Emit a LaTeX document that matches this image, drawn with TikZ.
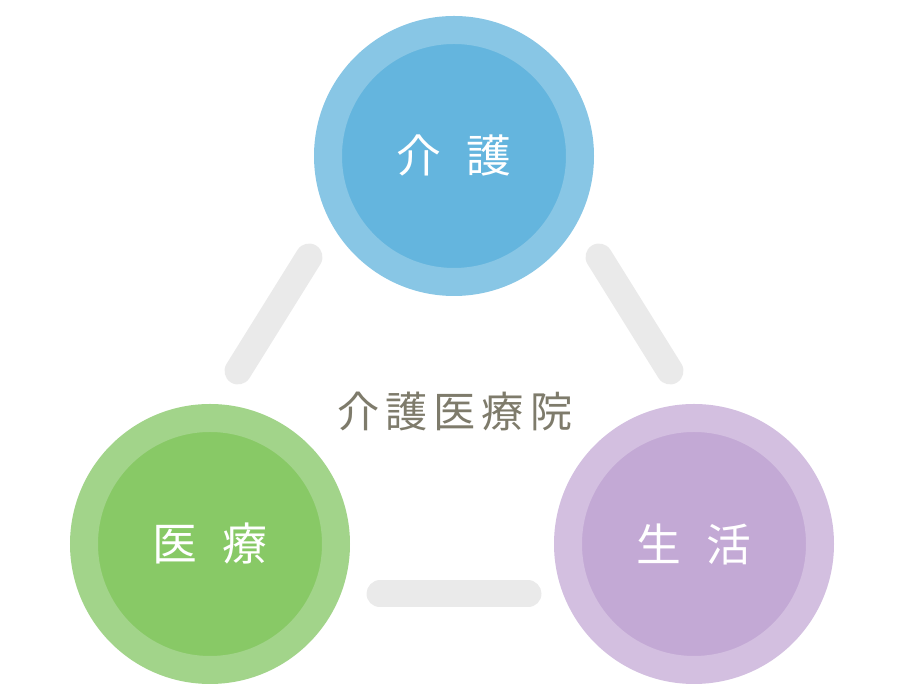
\documentclass[tikz,border=0pt]{standalone}
\usepackage{fontspec}
\newfontfamily\jpfont{Noto Sans CJK JP}
\newfontfamily\jpwide{Noto Sans CJK JP}[LetterSpace=14]
\definecolor{kaigoOuter}{HTML}{88C6E5}
\definecolor{kaigoInner}{HTML}{64B5DE}
\definecolor{iryoOuter}{HTML}{A2D48A}
\definecolor{iryoInner}{HTML}{88C966}
\definecolor{seikatsuOuter}{HTML}{D3BFE0}
\definecolor{seikatsuInner}{HTML}{C3A9D5}
\definecolor{barGray}{HTML}{EAEAEA}
\definecolor{titleGray}{HTML}{7E7B6B}

\begin{document}
\begin{tikzpicture}[ring/.style={circle,minimum size=5.04cm,line width=0.56cm,inner sep=0pt,text=white,font=\jpfont\fontsize{25.5}{30}\selectfont},bar/.style={draw=barGray,line width=0.54cm,line cap=round}]
\useasboundingbox (0,0) rectangle (18,14);
\node[ring,draw=kaigoOuter,fill=kaigoInner] (kaigo) at (9.08,10.88) {介\hspace{0.55em}護};
\node[ring,draw=iryoOuter,fill=iryoInner] (iryo) at (4.2,3.12) {医\hspace{0.55em}療};
\node[ring,draw=seikatsuOuter,fill=seikatsuInner] (seikatsu) at (13.88,3.12) {生\hspace{0.55em}活};
\node[text=titleGray,font=\jpwide\fontsize{24}{29}\selectfont] (title) at (9.1,5.76) {介護医療院};
% bars between the circles
\coordinate (kaigoL) at (6.18,8.86);
\coordinate (iryoT) at (4.76,6.58);
\coordinate (kaigoR) at (11.98,8.86);
\coordinate (seikatsuT) at (13.40,6.58);
\coordinate (iryoR) at (7.6,2.12);
\coordinate (seikatsuL) at (10.56,2.12);
\draw[bar] (kaigoL)--(iryoT);
\draw[bar] (kaigoR)--(seikatsuT);
\draw[bar] (iryoR)--(seikatsuL);
\end{tikzpicture}
\end{document}
